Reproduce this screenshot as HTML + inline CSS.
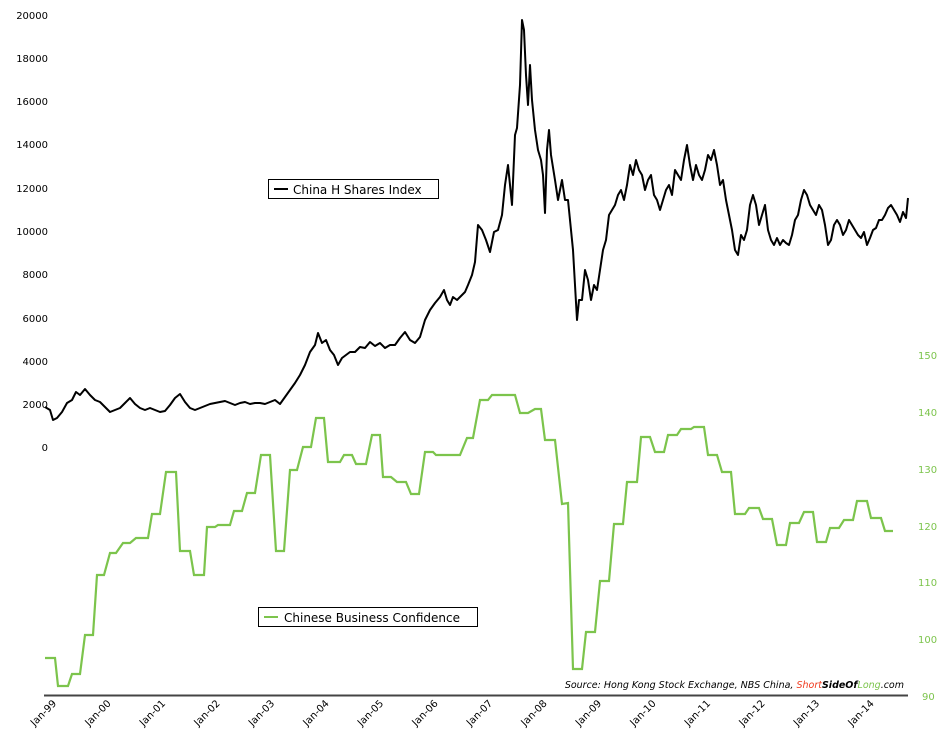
<!DOCTYPE html>
<html><head><meta charset="utf-8"><style>
body{margin:0;background:#fff;}
svg{display:block;font-family:"DejaVu Sans","Liberation Sans",sans-serif;}
</style></head><body>
<svg width="946" height="741" viewBox="0 0 946 741">
<g font-size="10" fill="#000" text-anchor="end">
<text x="48" y="19">20000</text><text x="48" y="62">18000</text><text x="48" y="105">16000</text>
<text x="48" y="148">14000</text><text x="48" y="192">12000</text><text x="48" y="235">10000</text>
<text x="48" y="278">8000</text><text x="48" y="322">6000</text><text x="48" y="365">4000</text>
<text x="48" y="408">2000</text><text x="48" y="451">0</text>
</g>
<g font-size="10" fill="#7cc44c" text-anchor="start">
<text x="918" y="359">150</text><text x="918" y="416">140</text><text x="918" y="473">130</text>
<text x="918" y="530">120</text><text x="918" y="586">110</text><text x="918" y="643">100</text>
<text x="922" y="700">90</text>
</g>
<line x1="44" y1="695.5" x2="908" y2="695.5" stroke="#444" stroke-width="2"/>
<g font-size="10" fill="#000" text-anchor="end">
<text transform="translate(57,704) rotate(-45)">Jan-99</text>
<text transform="translate(111.5,704) rotate(-45)">Jan-00</text>
<text transform="translate(166,704) rotate(-45)">Jan-01</text>
<text transform="translate(220.5,704) rotate(-45)">Jan-02</text>
<text transform="translate(275,704) rotate(-45)">Jan-03</text>
<text transform="translate(329.5,704) rotate(-45)">Jan-04</text>
<text transform="translate(384,704) rotate(-45)">Jan-05</text>
<text transform="translate(438.5,704) rotate(-45)">Jan-06</text>
<text transform="translate(493,704) rotate(-45)">Jan-07</text>
<text transform="translate(547.5,704) rotate(-45)">Jan-08</text>
<text transform="translate(602,704) rotate(-45)">Jan-09</text>
<text transform="translate(656.5,704) rotate(-45)">Jan-10</text>
<text transform="translate(711,704) rotate(-45)">Jan-11</text>
<text transform="translate(765.5,704) rotate(-45)">Jan-12</text>
<text transform="translate(820,704) rotate(-45)">Jan-13</text>
<text transform="translate(874.5,704) rotate(-45)">Jan-14</text>
</g>
<polyline fill="none" stroke="#7cc44c" stroke-width="2.2" points="45,658 55,658 58,686 68,686 72,674 80,674 85,635 93,635 97,575 104,575 110,553 116,553 123,543 130,543 136,538 148,538 152,514 160,514 166,472 176,472 180,551 190,551 194,575 204,575 207,527 215,527 218,525 230,525 234,511 242,511 247,493 255,493 261,455 270,455 276,551 284,551 290,470 297,470 303,447 311,447 316,418 324,418 328,462 340,462 344,455 352,455 356,464 366,464 372,435 380,435 383,477 391,477 397,482 406,482 411,494 419,494 425,452 433,452 436,455 460,455 467,438 473,438 480,400 488,400 492,395 515,395 520,413 528,413 535,409 541,409 545,440 555,440 562,504 568,503 573,669 582,669 586,632 595,632 600,581 609,581 614,524 623,524 627,482 637,482 641,437 650,437 655,452 664,452 668,435 677,435 681,429 691,429 694,427 704,427 708,455 717,455 722,472 731,472 735,514 745,514 749,508 759,508 763,519 772,519 777,545 786,545 790,523 799,523 804,512 813,512 817,542 826,542 830,528 839,528 844,520 853,520 857,501 867,501 871,518 881,518 885,531 893,531"/>
<polyline fill="none" stroke="#000" stroke-width="2" stroke-linejoin="round" points="45,407 50,410 53,420 57,418 62,412 67,403 72,400 76,392 80,395 85,389 90,395 95,400 100,402 105,407 110,412 115,410 120,408 125,403 130,398 135,404 140,408 145,410 150,408 155,410 160,412 165,411 170,405 175,398 180,394 185,402 190,408 195,410 200,408 205,406 210,404 215,403 220,402 225,401 230,403 235,405 240,403 245,402 250,404 255,403 260,403 265,404 270,402 275,400 280,404 285,397 290,390 295,383 300,375 305,365 310,352 315,345 318,333 322,343 326,340 330,350 334,355 338,365 342,358 346,355 350,352 355,352 360,347 365,348 370,342 375,346 380,343 385,348 390,345 395,345 400,338 405,332 410,340 415,343 420,337 425,320 430,310 435,303 440,297 444,290 447,300 450,305 453,297 457,300 460,297 465,292 468,285 472,275 475,262 478,225 482,230 486,240 490,252 494,232 498,230 502,215 505,185 508,165 512,205 515,135 517,128 520,85 522,20 524,30 526,75 528,105 530,65 532,100 535,130 538,150 541,160 543,175 545,213 547,150 549,130 551,155 555,180 558,200 562,180 565,200 568,200 571,230 573,250 575,285 577,320 579,300 582,300 585,270 588,280 591,300 594,285 597,290 600,270 603,250 606,240 609,215 612,210 615,205 618,195 621,190 624,200 627,185 630,165 633,175 636,160 639,170 642,175 645,190 648,180 651,175 654,195 657,200 660,210 663,200 666,190 669,185 672,195 675,170 678,175 681,180 684,160 687,145 690,165 693,180 696,165 699,175 702,180 705,170 708,155 711,160 714,150 717,165 720,185 723,180 726,200 729,215 732,230 735,250 738,255 741,235 744,240 747,230 750,205 753,195 756,205 759,225 762,215 765,205 768,230 771,240 774,245 777,238 780,245 783,240 786,243 789,245 792,235 795,220 798,215 801,200 804,190 807,195 810,205 813,210 816,215 819,205 822,210 825,225 828,245 831,240 834,225 837,220 840,225 843,235 846,230 849,220 852,225 855,230 858,235 861,238 864,232 867,245 870,238 873,230 876,228 879,220 882,220 885,215 888,208 891,205 894,210 897,215 900,222 903,212 906,218 908,198"/>
<rect x="268.5" y="179.5" width="170" height="19" fill="#fff" stroke="#000"/>
<line x1="274" y1="189" x2="288" y2="189" stroke="#000" stroke-width="2"/>
<text x="293" y="194" font-size="12">China H Shares Index</text>
<rect x="258.5" y="607.5" width="219" height="19" fill="#fff" stroke="#000"/>
<line x1="264" y1="617" x2="278" y2="617" stroke="#7cc44c" stroke-width="2"/>
<text x="284" y="622" font-size="12">Chinese Business Confidence</text>
<text x="904" y="688" font-size="9.5" font-style="italic" text-anchor="end">Source: Hong Kong Stock Exchange, NBS China, <tspan fill="#f03a1e">Short</tspan><tspan font-weight="bold">SideOf</tspan><tspan fill="#7cc44c">Long</tspan>.com</text>
</svg>
</body></html>
